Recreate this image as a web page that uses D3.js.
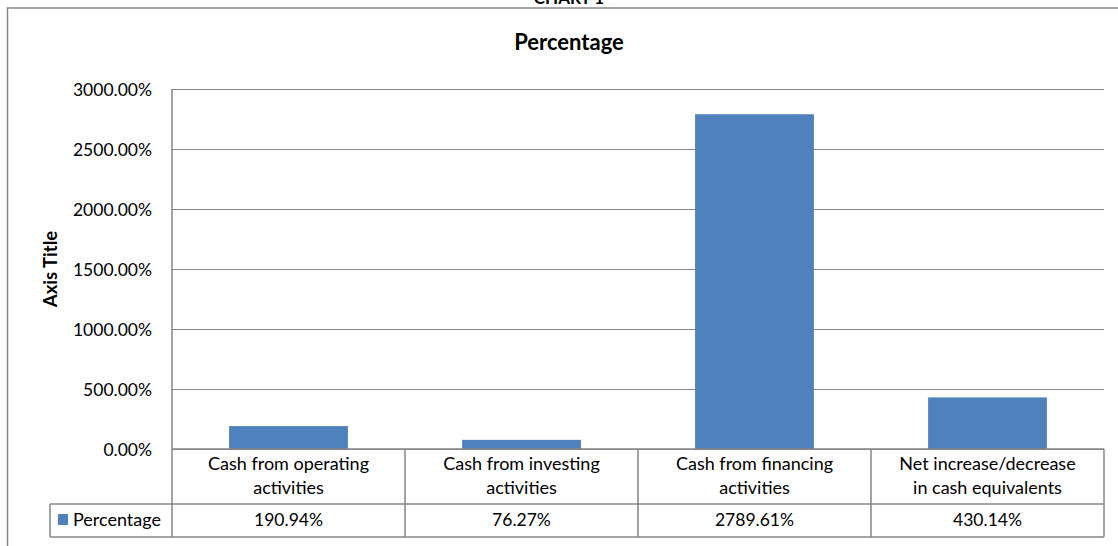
<!DOCTYPE html>
<html>
<head>
<meta charset="utf-8">
<script src="https://cdn.jsdelivr.net/npm/d3@7"></script>
<style>
    body { margin: 0; background: #fff; }
    svg { display: block; font-family: Lato, "Open Sans", sans-serif; }
</style>
</head>
<body>
<svg id="chart" width="1118" height="546"></svg>
<script>
// chart data
var categories = [
        ["Cash from operating", "activities"],
        ["Cash from investing", "activities"],
        ["Cash from financing", "activities"],
        ["Net increase/decrease", "in cash equivalents"]
    ],
    values = [190.94, 76.27, 2789.61, 430.14],
    valueLabels = ["190.94%", "76.27%", "2789.61%", "430.14%"],
    yTicks = [0, 500, 1000, 1500, 2000, 2500, 3000],
    seriesName = "Percentage";

var svg = d3.select("#chart"),
    plotLeft = 172,
    plotRight = 1104,
    plotTop = 89,
    plotBottom = 449,
    headerBottom = 504,
    tableBottom = 537,
    legendLeft = 50,
    gridColor = "#868686",
    barColor = "#4F81BD";

var x = d3.scaleBand()
    .domain(d3.range(categories.length))
    .range([plotLeft, plotRight]);
var y = d3.scaleLinear()
    .domain([0, 3000])
    .range([plotBottom, plotTop]);

// outer border (runs off the right and bottom edges)
svg.append("rect")
    .attr("x", 7.5).attr("y", 8)
    .attr("width", 1120).attr("height", 560)
    .attr("fill", "none")
    .attr("stroke", gridColor)
    .attr("stroke-width", 1.5);

// heading above the border, cut off by the top edge like the reference
svg.append("text")
    .attr("x", 569).attr("y", 4)
    .attr("text-anchor", "middle")
    .attr("font-weight", "bold")
    .attr("font-size", 17)
    .text("CHART 1");

svg.append("text")
    .attr("x", 569).attr("y", 50)
    .attr("text-anchor", "middle")
    .attr("font-weight", "bold")
    .attr("font-size", 22)
    .text(seriesName);

// y axis title
svg.append("text")
    .attr("transform", "translate(57, 269) rotate(-90)")
    .attr("text-anchor", "middle")
    .attr("font-weight", "bold")
    .attr("font-size", 18.5)
    .text("Axis Title");

// gridlines + tick labels
var yAxis = d3.axisLeft(y)
    .tickValues(yTicks)
    .tickSize(-(plotRight - plotLeft))
    .tickPadding(20)
    .tickFormat(function (d) { return d3.format(".2f")(d) + "%"; });
var gAxis = svg.append("g")
    .attr("transform", "translate(" + plotLeft + ",0)")
    .call(yAxis);
gAxis.select(".domain").remove();
gAxis.selectAll(".tick line")
    .attr("stroke", gridColor)
    .attr("stroke-width", 1.2);
gAxis.selectAll(".tick text")
    .attr("fill", "#000")
    .attr("font-family", "Lato, sans-serif")
    .attr("font-size", 17.5)
    .attr("dy", "0.35em");

// bars
svg.selectAll("rect.bar")
    .data(values)
    .enter().append("rect")
        .attr("class", "bar")
        .attr("x", function (d, i) { return x(i) + x.bandwidth() * 0.245; })
        .attr("width", x.bandwidth() * 0.51)
        .attr("y", function (d) { return y(d); })
        .attr("height", function (d) { return y(0) - y(d); })
        .attr("fill", barColor);

// data table lines
var tbl = svg.append("g")
    .attr("stroke", gridColor)
    .attr("stroke-width", 1.5)
    .attr("fill", "none");
tbl.append("line")
    .attr("x1", plotLeft).attr("x2", plotLeft)
    .attr("y1", plotTop).attr("y2", tableBottom);
tbl.append("line")
    .attr("x1", plotLeft).attr("x2", plotRight)
    .attr("y1", plotBottom).attr("y2", plotBottom);
[headerBottom, tableBottom].forEach(function (yy) {
    tbl.append("line")
        .attr("x1", legendLeft).attr("x2", plotRight)
        .attr("y1", yy).attr("y2", yy);
});
tbl.append("line")
    .attr("x1", legendLeft).attr("x2", legendLeft)
    .attr("y1", headerBottom).attr("y2", tableBottom);
d3.range(categories.length).forEach(function (i) {
    var xx = x(i) + x.bandwidth();
    tbl.append("line")
        .attr("x1", xx).attr("x2", xx)
        .attr("y1", plotBottom).attr("y2", tableBottom);
});

// category labels
var cat = svg.selectAll("text.cat")
    .data(categories)
    .enter().append("text")
        .attr("class", "cat")
        .attr("text-anchor", "middle")
        .attr("font-size", 18)
        .attr("x", function (d, i) { return x(i) + x.bandwidth() / 2; })
        .attr("y", 470);
cat.append("tspan")
    .attr("x", function (d, i) { return x(i) + x.bandwidth() / 2; })
    .text(function (d) { return d[0]; });
cat.append("tspan")
    .attr("x", function (d, i) { return x(i) + x.bandwidth() / 2; })
    .attr("dy", 24)
    .text(function (d) { return d[1]; });

// value row
svg.selectAll("text.val")
    .data(valueLabels)
    .enter().append("text")
        .attr("class", "val")
        .attr("text-anchor", "middle")
        .attr("font-size", 17.5)
        .attr("x", function (d, i) { return x(i) + x.bandwidth() / 2; })
        .attr("y", 526)
        .text(function (d) { return d; });

// legend key
svg.append("rect")
    .attr("x", 58).attr("y", 514)
    .attr("width", 10).attr("height", 11)
    .attr("fill", barColor);
svg.append("text")
    .attr("x", 73).attr("y", 526)
    .attr("font-size", 18)
    .text(seriesName);
</script>
</body>
</html>
